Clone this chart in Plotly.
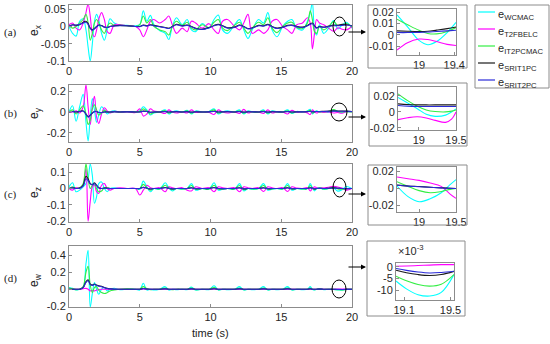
import plotly.graph_objects as go

W, H = 550, 344
def px(x): return x / W
def py(y): return 1 - y / H

# ---------------- data ----------------
names = ["WCMAC", "T2FBELC", "IT2PCMAC", "SRIT1PC", "SRIT2PC"]
colors = ["#00ffff", "#ff00ff", "#33ee44", "#1a1a1a", "#2a2ad8"]

t_main = [0, 0.25, 0.5, 0.75, 1.0, 1.2, 1.35, 1.5, 1.65, 1.8,
          1.95, 2.1, 2.3, 2.5, 2.7, 2.9, 3.2, 3.6, 4.1, 4.7,
          5.0, 5.25, 5.5, 5.75, 6.0, 6.4, 6.8, 7.05, 7.3, 7.6,
          8.0, 8.35, 8.65, 8.95, 9.4, 9.9, 10.25, 10.55, 10.85, 11.2,
          11.7, 12.05, 12.35, 12.65, 12.95, 13.4, 13.75, 14.05, 14.35, 14.7,
          15.1, 15.45, 15.75, 16.1, 16.5, 16.85, 17.05, 17.2, 17.35, 17.5,
          17.7, 18.0, 18.35, 18.7, 19.0, 19.3, 19.6, 20.0]

# (a) e_x
ex_wcmac = [0.0, -0.02, -0.028, 0.015, 0.022, -0.01, -0.06, -0.1, -0.05, 0.015,
            0.035, 0.02, -0.02, -0.04, -0.01, 0.022, 0.01, 0.004, 0.003, 0.002,
            0.005, 0.045, 0.015, 0.032, 0.005, -0.012, -0.02, -0.038, 0.0, 0.025,
            0.005, 0.02, -0.01, -0.015, 0.008, -0.005, 0.02, 0.033, -0.01, -0.02,
            0.005, 0.02, -0.01, -0.035, -0.01, 0.02, 0.01, 0.04, -0.01, -0.03,
            0.0, 0.015, 0.02, -0.005, -0.01, 0.015, 0.04, 0.07, -0.01, -0.025,
            0.005, -0.02, -0.005, 0.017, -0.007, 0.004, 0.012, -0.005]
ex_t2fbelc = [0.005, 0.01, -0.005, -0.01, 0.01, 0.04, 0.065, 0.03, -0.02, -0.03,
              -0.01, 0.02, 0.04, 0.02, -0.015, -0.02, 0.005, 0.005, 0.002, 0.0,
              -0.01, -0.03, -0.01, 0.015, 0.02, 0.01, 0.02, 0.03, 0.005, -0.02,
              -0.005, -0.015, 0.015, 0.01, -0.005, 0.008, -0.01, -0.02, 0.015, 0.02,
              0.0, -0.01, 0.01, 0.035, -0.02, -0.01, -0.02, -0.01, 0.015, 0.02,
              0.0, -0.01, -0.02, 0.005, 0.01, 0.025, 0.01, -0.065, -0.02, 0.02,
              0.01, 0.005, -0.005, -0.014, -0.004, -0.008, -0.01, 0.0]
ex_it2pcmac = [0.002, -0.005, 0.0, 0.01, 0.02, 0.035, 0.01, -0.04, -0.02, 0.01,
               0.02, 0.01, -0.01, -0.02, 0.0, 0.01, 0.003, 0.003, 0.002, 0.0,
               0.005, 0.03, 0.01, 0.02, 0.0, -0.01, -0.015, -0.025, 0.0, 0.015,
               0.003, 0.012, -0.005, -0.01, 0.005, -0.003, 0.012, 0.02, -0.005, -0.012,
               0.003, 0.012, -0.005, -0.02, -0.005, 0.012, 0.005, 0.025, -0.005, -0.018,
               0.0, 0.01, 0.012, -0.003, -0.006, 0.01, 0.045, 0.02, -0.015, -0.02,
               0.0, -0.01, 0.0, 0.014, 0.003, 0.004, 0.008, -0.002]
ex_srit1pc = [0.0, 0.005, 0.003, 0.005, 0.012, 0.015, 0.008, -0.005, -0.01, -0.006,
              0.0, 0.004, 0.003, -0.002, -0.003, 0.0, 0.002, 0.003, 0.002, 0.0,
              0.0, 0.004, 0.002, 0.005, 0.003, 0.0, -0.003, -0.005, 0.0, 0.006,
              0.002, 0.004, 0.0, -0.005, -0.008, -0.003, 0.003, 0.006, 0.002, -0.004,
              -0.002, 0.004, 0.0, -0.006, -0.004, 0.003, 0.002, 0.006, 0.0, -0.005,
              -0.002, 0.003, 0.004, 0.0, -0.002, 0.003, 0.008, 0.01, 0.002, -0.004,
              0.0, -0.002, 0.001, 0.004, 0.003, 0.006, 0.005, 0.002]
ex_srit2pc = [0.0, 0.004, 0.004, 0.006, 0.01, 0.012, 0.006, -0.006, -0.011, -0.007,
              -0.001, 0.003, 0.002, -0.002, -0.003, 0.0, 0.001, 0.002, 0.002, 0.0,
              -0.001, 0.003, 0.001, 0.004, 0.002, -0.001, -0.004, -0.006, -0.001, 0.005,
              0.001, 0.003, -0.001, -0.006, -0.009, -0.004, 0.002, 0.005, 0.001, -0.005,
              -0.003, 0.003, -0.001, -0.007, -0.005, 0.002, 0.001, 0.005, -0.001, -0.006,
              -0.003, 0.002, 0.003, -0.001, -0.003, 0.002, 0.006, 0.008, 0.001, -0.005,
              -0.001, -0.003, 0.0, 0.002, 0.002, 0.003, 0.004, 0.001]

# (b) e_y
ey_wcmac = [0.0, 0.06, -0.09, 0.05, 0.17, -0.1, -0.28, -0.05, 0.13, 0.02,
            -0.1, -0.03, 0.05, 0.02, -0.02, 0.0, 0.01, 0.0, 0.005, 0.0,
            0.01, 0.05, 0.02, -0.03, -0.01, 0.0, 0.02, -0.02, 0.0, 0.01,
            0.0, 0.015, -0.02, 0.01, 0.0, 0.005, 0.03, -0.02, 0.0, 0.01,
            0.0, 0.02, -0.02, 0.01, 0.0, 0.0, 0.02, -0.02, 0.01, 0.0,
            0.0, 0.02, -0.015, 0.005, 0.0, 0.01, 0.025, -0.02, 0.0, 0.01,
            0.0, 0.005, -0.005, 0.018, 0.003, -0.005, 0.005, 0.0]
ey_t2fbelc = [0.005, 0.0, 0.01, -0.01, 0.05, 0.26, 0.05, -0.12, 0.05, 0.15,
              -0.05, -0.11, -0.02, 0.04, 0.01, -0.01, 0.005, 0.0, 0.0, -0.005,
              0.03, -0.04, -0.02, 0.03, 0.01, 0.0, -0.015, 0.02, 0.0, -0.01,
              0.0, -0.01, 0.02, -0.005, 0.0, -0.005, -0.025, 0.02, 0.0, -0.01,
              0.0, -0.015, 0.025, -0.01, 0.0, 0.0, -0.015, 0.02, -0.01, 0.0,
              0.0, -0.02, 0.015, -0.005, 0.0, -0.01, -0.025, 0.02, 0.0, -0.01,
              0.0, -0.005, 0.0, -0.01, -0.006, -0.012, 0.003, 0.0]
ey_it2pcmac = [0.0, 0.02, -0.02, 0.02, 0.06, -0.02, -0.12, -0.08, 0.03, 0.07,
               0.02, -0.03, -0.01, 0.015, 0.0, -0.005, 0.005, 0.0, 0.003, 0.0,
               0.005, 0.03, 0.01, -0.02, -0.005, 0.0, 0.012, -0.012, 0.0, 0.005,
               0.0, 0.01, -0.012, 0.005, 0.0, 0.003, 0.02, -0.012, 0.0, 0.005,
               0.0, 0.012, -0.012, 0.005, 0.0, 0.0, 0.012, -0.012, 0.005, 0.0,
               0.0, 0.012, -0.01, 0.003, 0.0, 0.006, 0.015, -0.012, 0.0, 0.006,
               0.0, 0.003, 0.005, 0.022, 0.005, 0.0, 0.003, 0.0]
ey_srit1pc = [0.0, 0.005, 0.0, 0.005, 0.01, -0.02, -0.045, -0.03, -0.01, 0.005,
              0.005, -0.005, -0.005, 0.0, 0.0, 0.0, 0.002, 0.0, 0.002, 0.0,
              0.0, 0.008, 0.005, -0.003, 0.0, 0.0, 0.004, 0.0, 0.002, 0.003,
              0.0, 0.003, -0.002, 0.002, 0.0, 0.002, 0.006, 0.0, 0.002, 0.003,
              0.0, 0.004, -0.002, 0.002, 0.002, 0.0, 0.004, -0.001, 0.003, 0.002,
              0.0, 0.004, 0.0, 0.002, 0.002, 0.003, 0.006, 0.002, 0.003, 0.005,
              0.004, 0.006, 0.008, 0.01, 0.009, 0.009, 0.008, 0.005]
ey_srit2pc = [0.0, 0.004, 0.0, 0.004, 0.008, -0.022, -0.05, -0.033, -0.012, 0.003,
              0.004, -0.006, -0.006, -0.001, 0.0, 0.0, 0.001, 0.0, 0.001, 0.0,
              0.0, 0.006, 0.004, -0.004, 0.0, 0.0, 0.003, -0.001, 0.001, 0.002,
              0.0, 0.002, -0.003, 0.001, 0.0, 0.001, 0.005, -0.001, 0.001, 0.002,
              0.0, 0.003, -0.003, 0.001, 0.001, 0.0, 0.003, -0.002, 0.002, 0.001,
              0.0, 0.003, -0.001, 0.001, 0.001, 0.002, 0.005, 0.001, 0.002, 0.004,
              0.003, 0.005, 0.006, 0.008, 0.007, 0.007, 0.006, 0.004]

# (c) e_z
ez_wcmac = [0.01, 0.035, -0.02, -0.01, 0.01, 0.03, 0.06, 0.15, 0.08, -0.09,
            -0.05, 0.03, 0.04, 0.0, -0.02, 0.0, 0.005, 0.0, 0.0, 0.0,
            -0.005, 0.045, 0.01, -0.02, 0.0, -0.005, 0.035, 0.005, -0.015, 0.0,
            -0.005, 0.0, 0.03, -0.01, 0.0, -0.005, 0.035, -0.01, -0.005, 0.0,
            -0.005, 0.03, -0.015, 0.0, -0.005, 0.0, 0.03, -0.01, -0.005, 0.0,
            -0.005, 0.03, -0.01, 0.0, -0.005, 0.0, 0.03, 0.005, -0.015, 0.0,
            0.005, -0.005, 0.0, 0.003, -0.016, -0.007, 0.012, 0.0]
ez_t2fbelc = [0.0, -0.01, 0.005, 0.0, 0.02, 0.12, -0.2, -0.08, 0.01, 0.02,
              -0.02, -0.03, 0.02, 0.03, 0.0, -0.01, 0.0, 0.005, 0.0, 0.0,
              -0.04, -0.01, 0.02, 0.005, 0.0, 0.005, -0.02, 0.01, 0.005, 0.0,
              0.005, -0.01, -0.015, 0.01, 0.0, 0.005, -0.02, 0.01, 0.005, 0.0,
              0.005, -0.02, 0.01, 0.005, 0.0, 0.005, -0.018, 0.01, 0.004, 0.0,
              0.005, -0.018, 0.01, 0.003, 0.0, 0.005, -0.015, 0.0, 0.01, 0.005,
              0.0, 0.005, 0.008, 0.013, 0.009, 0.003, -0.01, 0.0]
ez_it2pcmac = [0.0, 0.01, 0.0, 0.005, 0.03, 0.15, 0.06, 0.0, 0.02, 0.03,
               0.0, -0.02, -0.015, 0.005, 0.005, 0.0, 0.0, 0.0, 0.0, 0.0,
               0.0, 0.025, 0.005, -0.01, 0.0, -0.003, 0.02, 0.003, -0.008, 0.0,
               -0.003, 0.0, 0.018, -0.005, 0.0, -0.003, 0.02, -0.005, -0.003, 0.0,
               -0.003, 0.018, -0.008, 0.0, -0.003, 0.0, 0.018, -0.005, -0.003, 0.0,
               -0.003, 0.018, -0.005, 0.0, -0.003, 0.0, 0.018, 0.003, -0.008, 0.0,
               0.003, -0.003, 0.0, 0.008, -0.003, -0.004, 0.0, 0.0]
ez_srit1pc = [0.0, 0.005, 0.0, 0.003, 0.02, 0.075, 0.06, 0.03, 0.025, 0.035,
              0.02, 0.005, 0.0, 0.003, 0.002, 0.0, 0.0, 0.0, 0.0, 0.0,
              0.0, 0.008, 0.002, -0.003, 0.0, 0.0, 0.006, 0.001, -0.002, 0.0,
              0.0, 0.0, 0.005, -0.001, 0.0, 0.0, 0.006, 0.0, -0.001, 0.0,
              0.0, 0.005, -0.002, 0.0, 0.0, 0.0, 0.005, -0.001, 0.0, 0.0,
              0.0, 0.005, -0.001, 0.0, 0.0, 0.0, 0.005, 0.001, -0.002, 0.0,
              0.001, 0.0, 0.002, 0.004, 0.002, 0.0, -0.001, 0.0]
ez_srit2pc = [0.0, 0.004, 0.0, 0.002, 0.015, 0.06, 0.05, 0.028, 0.022, 0.03,
              0.018, 0.004, 0.0, 0.002, 0.001, 0.0, 0.0, 0.0, 0.0, 0.0,
              0.0, 0.007, 0.002, -0.003, 0.0, 0.0, 0.005, 0.001, -0.002, 0.0,
              0.0, 0.0, 0.004, -0.001, 0.0, 0.0, 0.005, 0.0, -0.001, 0.0,
              0.0, 0.004, -0.002, 0.0, 0.0, 0.0, 0.004, -0.001, 0.0, 0.0,
              0.0, 0.004, -0.001, 0.0, 0.0, 0.0, 0.004, 0.001, -0.002, 0.0,
              0.001, 0.0, 0.002, 0.0035, 0.0018, 0.0, -0.001, 0.0]

# (d) e_w
ew_wcmac = [0.02, 0.01, -0.01, 0.0, 0.02, 0.3, 0.46, -0.21, -0.05, 0.08,
            0.0, -0.06, 0.0, 0.02, -0.02, 0.0, 0.01, -0.005, 0.0, 0.0,
            -0.01, 0.07, -0.01, 0.0, -0.01, 0.0, 0.03, -0.01, 0.0, -0.005,
            0.0, -0.005, 0.025, -0.01, 0.0, -0.005, 0.04, -0.01, 0.0, -0.005,
            0.0, 0.03, -0.01, 0.0, -0.005, 0.0, 0.03, -0.01, 0.0, -0.005,
            0.0, 0.03, -0.01, 0.0, -0.005, 0.0, 0.03, 0.0, -0.01, 0.0,
            0.005, -0.005, 0.0, -0.003, -0.008, -0.012, -0.002, 0.0]
ew_t2fbelc = [0.0, 0.0, 0.0, 0.0, 0.005, 0.01, 0.0, -0.02, -0.015, -0.02,
              -0.01, -0.005, 0.0, 0.0, 0.0, 0.0, 0.0, 0.0, 0.0, 0.0,
              0.0, 0.002, 0.0, -0.001, 0.0, 0.0, 0.001, 0.0, 0.0, 0.0,
              0.0, 0.0, 0.001, 0.0, 0.0, 0.0, 0.002, 0.0, 0.0, 0.0,
              0.0, 0.001, 0.0, 0.0, 0.0, 0.0, 0.001, 0.0, 0.0, 0.0,
              0.0, 0.001, 0.0, 0.0, 0.0, 0.0, 0.001, 0.0, 0.0, 0.0,
              0.0, 0.0, 0.0, 0.0, 0.0004, 0.0008, 0.001, 0.0]
ew_it2pcmac = [0.015, 0.005, -0.005, 0.0, 0.03, 0.2, 0.27, 0.05, -0.04, 0.02,
               0.03, -0.01, -0.04, -0.05, -0.04, -0.02, -0.01, 0.0, 0.005, 0.0,
               0.0, 0.03, 0.005, -0.005, 0.0, 0.0, 0.015, 0.0, -0.005, 0.0,
               0.0, 0.0, 0.015, -0.005, 0.0, 0.0, 0.02, -0.005, 0.0, 0.0,
               0.0, 0.015, -0.005, 0.0, 0.0, 0.0, 0.015, -0.005, 0.0, 0.0,
               0.0, 0.015, -0.005, 0.0, 0.0, 0.0, 0.015, 0.0, -0.005, 0.0,
               0.003, -0.003, 0.0, -0.004, -0.006, -0.008, -0.002, 0.0]
ew_srit1pc = [0.0, 0.0, 0.0, 0.0, 0.02, 0.09, 0.11, 0.06, 0.05, 0.06,
              0.05, 0.04, 0.035, 0.02, 0.01, 0.005, 0.0, 0.0, 0.0, 0.0,
              0.0, 0.008, 0.002, 0.0, 0.0, 0.0, 0.005, 0.0, 0.0, 0.0,
              0.0, 0.0, 0.005, 0.0, 0.0, 0.0, 0.006, 0.0, 0.0, 0.0,
              0.0, 0.005, 0.0, 0.0, 0.0, 0.0, 0.005, 0.0, 0.0, 0.0,
              0.0, 0.005, 0.0, 0.0, 0.0, 0.0, 0.005, 0.0, 0.0, 0.0,
              0.001, 0.0, 0.0, -0.001, -0.003, -0.0037, -0.002, 0.0]
ew_srit2pc = [0.0, 0.0, 0.0, 0.0, 0.018, 0.08, 0.1, 0.055, 0.045, 0.055,
              0.045, 0.035, 0.03, 0.018, 0.008, 0.004, 0.0, 0.0, 0.0, 0.0,
              0.0, 0.007, 0.002, 0.0, 0.0, 0.0, 0.004, 0.0, 0.0, 0.0,
              0.0, 0.0, 0.004, 0.0, 0.0, 0.0, 0.005, 0.0, 0.0, 0.0,
              0.0, 0.004, 0.0, 0.0, 0.0, 0.0, 0.004, 0.0, 0.0, 0.0,
              0.0, 0.004, 0.0, 0.0, 0.0, 0.0, 0.004, 0.0, 0.0, 0.0,
              0.001, 0.0, 0.0, -0.0007, -0.002, -0.0026, -0.0019, 0.0]

# zoomed insets
t_ia = [18.75, 18.87, 19.0, 19.1, 19.2, 19.32, 19.42]
ia_wcmac = [0.0177, 0.007, -0.005, -0.0088, -0.006, 0.002, 0.011]
ia_t2fbelc = [-0.0135, -0.007, -0.0038, -0.0042, -0.006, -0.0085, -0.0095]
ia_it2pcmac = [0.0139, 0.009, 0.004, 0.0012, 0.0008, 0.003, 0.0065]
ia_srit1pc = [0.0035, 0.0032, 0.003, 0.0032, 0.0042, 0.0055, 0.007]
ia_srit2pc = [0.002, 0.002, 0.0022, 0.0025, 0.003, 0.0035, 0.004]

t_ib = [18.72, 18.85, 18.98, 19.1, 19.22, 19.36, 19.44, 19.5]
ib_wcmac = [0.018, 0.011, 0.004, -0.003, -0.0055, -0.004, 0.0, 0.0037]
ib_t2fbelc = [-0.0096, -0.0072, -0.006, -0.0075, -0.0105, -0.013, -0.009, 0.0]
ib_it2pcmac = [0.0225, 0.014, 0.007, 0.0025, 0.0005, 0.0, 0.001, 0.0025]
ib_srit1pc = [0.01, 0.0092, 0.0088, 0.0087, 0.0087, 0.0088, 0.0088, 0.0088]
ib_srit2pc = [0.008, 0.0072, 0.0068, 0.0067, 0.0067, 0.0067, 0.0067, 0.0067]

t_ic = [18.7, 18.85, 19.0, 19.15, 19.3, 19.42, 19.5]
ic_wcmac = [0.0024, -0.01, -0.016, -0.0125, -0.0055, 0.004, 0.010]
ic_t2fbelc = [0.013, 0.011, 0.009, 0.006, 0.002, -0.007, -0.012]
ic_it2pcmac = [0.0075, 0.002, -0.003, -0.0055, -0.004, -0.0015, -0.0004]
ic_srit1pc = [0.0035, 0.0025, 0.0018, 0.001, 0.0003, -0.0002, -0.0004]
ic_srit2pc = [0.0033, 0.0023, 0.0016, 0.0009, 0.0002, -0.0003, -0.0005]

t_id = [19.03, 19.12, 19.22, 19.32, 19.42, 19.53]
id_wcmac = [-0.0061, -0.0095, -0.012, -0.0126, -0.011, -0.0033]
id_t2fbelc = [0.0003, 0.0004, 0.0006, 0.0008, 0.001, 0.001]
id_it2pcmac = [-0.004, -0.006, -0.0076, -0.0083, -0.0075, -0.0033]
id_srit1pc = [-0.0014, -0.0025, -0.0033, -0.0037, -0.0033, -0.0019]
id_srit2pc = [-0.0007, -0.0015, -0.0022, -0.0026, -0.0024, -0.0019]

main_ticks_x = [0, 5, 10, 15, 20]
ticks_a = ([-0.1, -0.05, 0, 0.05], ["-0.1", "-0.05", "0", "0.05"])
ticks_b = ([-0.2, 0, 0.2], ["-0.2", "0", "0.2"])
ticks_c = ([-0.2, -0.1, 0, 0.1], ["-0.2", "-0.1", "0", "0.1"])
ticks_d = ([-0.2, 0, 0.2, 0.4], ["-0.2", "0", "0.2", "0.4"])
ticks_ia = ([-0.01, 0, 0.01, 0.02], ["-0.01", "0", "0.01", "0.02"])
ticks_ib = ([-0.02, 0, 0.02], ["-0.02", "0", "0.02"])
ticks_ic = ([-0.02, 0, 0.02], ["-0.02", "0", "0.02"])
ticks_id = ([-0.01, -0.005, 0], ["-10", "-5", "0"])
xt_ia = ([19, 19.4], ["19", "19.4"])
xt_ib = ([19, 19.5], ["19", "19.5"])
xt_ic = ([19, 19.5], ["19", "19.5"])
xt_id = ([19.1, 19.5], ["19.1", "19.5"])

# ---------------- figure ----------------
FONT = "Liberation Sans, Arial, sans-serif"
GRAY = "#8c8c8c"
fig = go.Figure()

panels = [
    (t_main, [ex_wcmac, ex_t2fbelc, ex_it2pcmac, ex_srit1pc, ex_srit2pc]),
    (t_main, [ey_wcmac, ey_t2fbelc, ey_it2pcmac, ey_srit1pc, ey_srit2pc]),
    (t_main, [ez_wcmac, ez_t2fbelc, ez_it2pcmac, ez_srit1pc, ez_srit2pc]),
    (t_main, [ew_wcmac, ew_t2fbelc, ew_it2pcmac, ew_srit1pc, ew_srit2pc]),
    (t_ia, [ia_wcmac, ia_t2fbelc, ia_it2pcmac, ia_srit1pc, ia_srit2pc]),
    (t_ib, [ib_wcmac, ib_t2fbelc, ib_it2pcmac, ib_srit1pc, ib_srit2pc]),
    (t_ic, [ic_wcmac, ic_t2fbelc, ic_it2pcmac, ic_srit1pc, ic_srit2pc]),
    (t_id, [id_wcmac, id_t2fbelc, id_it2pcmac, id_srit1pc, id_srit2pc]),
]
for i, (tt, series) in enumerate(panels):
    k = "" if i == 0 else str(i + 1)
    for name, col, vals in zip(names, colors, series):
        fig.add_trace(go.Scatter(x=tt, y=vals, mode="lines", name=name,
                                 line=dict(color=col, width=1.1, shape="spline"),
                                 xaxis="x" + k, yaxis="y" + k, showlegend=False,
                                 hoverinfo="skip"))

def ax(**kw):
    d = dict(showline=True, linecolor=GRAY, linewidth=1, mirror=True, automargin=False,
             ticks="inside", ticklen=3, tickcolor=GRAY, showgrid=False,
             zeroline=False, tickfont=dict(family=FONT, size=11, color="#262626"))
    d.update(kw)
    return d

main_y = [(5, 61, [-0.1, 0.062], ticks_a), (85, 142, [-0.29, 0.26], ticks_b),
          (164, 222, [-0.205, 0.15], ticks_c), (246, 307, [-0.21, 0.51], ticks_d)]
inset = [((397, 456), (9, 55), [18.75, 19.42], [-0.018, 0.023], xt_ia, ticks_ia),
         ((398, 456), (87, 130), [18.72, 19.5], [-0.0225, 0.031], xt_ib, ticks_ib),
         ((397, 456), (167, 212), [18.7, 19.5], [-0.028, 0.0247], xt_ic, ticks_ic),
         ((396, 454), (263, 300), [19.03, 19.53], [-0.0143, 0.0017], xt_id, ticks_id)]

lay = {}
for i, (top, bot, yr, tk) in enumerate(main_y):
    k = "" if i == 0 else str(i + 1)
    lay["xaxis" + k] = ax(domain=[px(69), px(352)], range=[0, 20], anchor="y" + k,
                         tickvals=main_ticks_x, ticktext=[str(v) for v in main_ticks_x])
    lay["yaxis" + k] = ax(domain=[py(bot), py(top)], range=yr, anchor="x" + k,
                         tickvals=tk[0], ticktext=tk[1])
for j, ((x0, x1), (y0, y1), xr, yr, xt, yt) in enumerate(inset):
    k = str(j + 5)
    lay["xaxis" + k] = ax(domain=[px(x0), px(x1)], range=xr, anchor="y" + k,
                         tickvals=xt[0], ticktext=xt[1])
    lay["yaxis" + k] = ax(domain=[py(y1), py(y0)], range=yr, anchor="x" + k,
                         tickvals=yt[0], ticktext=yt[1])

shapes = []
anns = []
# outer inset boxes
for (x0, y0, x1, y1) in [(368, 5, 467, 68), (369, 83, 467, 146),
                         (368, 165, 467, 225), (367, 241, 465, 316)]:
    shapes.append(dict(type="rect", xref="paper", yref="paper", x0=px(x0), x1=px(x1),
                       y0=py(y1), y1=py(y0), line=dict(color=GRAY, width=1)))
# circles
for (x0, y0, x1, y1) in [(333, 17, 346, 36), (331, 103, 347, 121),
                         (333, 178, 346, 197), (332, 280, 346, 298)]:
    shapes.append(dict(type="circle", xref="paper", yref="paper", x0=px(x0), x1=px(x1),
                       y0=py(y1), y1=py(y0), line=dict(color="black", width=1)))
# arrows
for yy in [32, 117, 194, 267]:
    anns.append(dict(x=px(366), y=py(yy), xref="paper", yref="paper", ax=-19, ay=0,
                     text="", showarrow=True, arrowhead=2, arrowsize=1, arrowwidth=1,
                     arrowcolor="black"))
# panel labels
for lab, ylab, yy, sub in [("(a)", 33, 30, "x"), ("(b)", 114, 113, "y"),
                           ("(c)", 194, 192, "z"), ("(d)", 278, 280, "w")]:
    anns.append(dict(x=px(10), y=py(ylab), xref="paper", yref="paper", text=lab,
                     xanchor="center", yanchor="middle", showarrow=False,
                     font=dict(family="Liberation Serif, Times New Roman, serif",
                               size=11, color="#222")))
    anns.append(dict(x=px(35), y=py(yy), xref="paper", yref="paper",
                     xanchor="center", yanchor="middle",
                     text="e<sub>" + sub + "</sub>", textangle=-90, showarrow=False,
                     font=dict(family=FONT, size=12, color="#222")))
anns.append(dict(x=px(210), y=py(333), xref="paper", yref="paper", text="time (s)",
                 xanchor="center", yanchor="middle", showarrow=False,
                 font=dict(family=FONT, size=11, color="#222")))
anns.append(dict(x=px(396), y=py(250), xref="paper", yref="paper", xanchor="left",
                 yanchor="middle", text="×10<sup>-3</sup>", showarrow=False,
                 font=dict(family=FONT, size=11, color="#262626")))
# legend
shapes.append(dict(type="rect", xref="paper", yref="paper", x0=px(475), x1=px(549),
                   y0=py(88), y1=py(5), line=dict(color=GRAY, width=1), fillcolor="white"))
for name, col, yy in zip(names, colors, [12, 29, 46, 63, 80]):
    shapes.append(dict(type="line", xref="paper", yref="paper", x0=px(478), x1=px(495),
                       y0=py(yy), y1=py(yy), line=dict(color=col, width=1.2)))
    anns.append(dict(x=px(496), y=py(yy + 3), xref="paper", yref="paper", xanchor="left",
                     yanchor="middle", text="e<sub>" + name + "</sub>", showarrow=False,
                     font=dict(family=FONT, size=11, color="#262626")))

fig.update_layout(width=W, height=H, margin=dict(l=0, r=0, t=0, b=0),
                  paper_bgcolor="white", plot_bgcolor="white",
                  shapes=shapes, annotations=anns, **lay)
fig.write_html("out.html", config={"displayModeBar": False},
               post_script="document.body.style.margin='0';document.body.style.overflow='hidden';")
